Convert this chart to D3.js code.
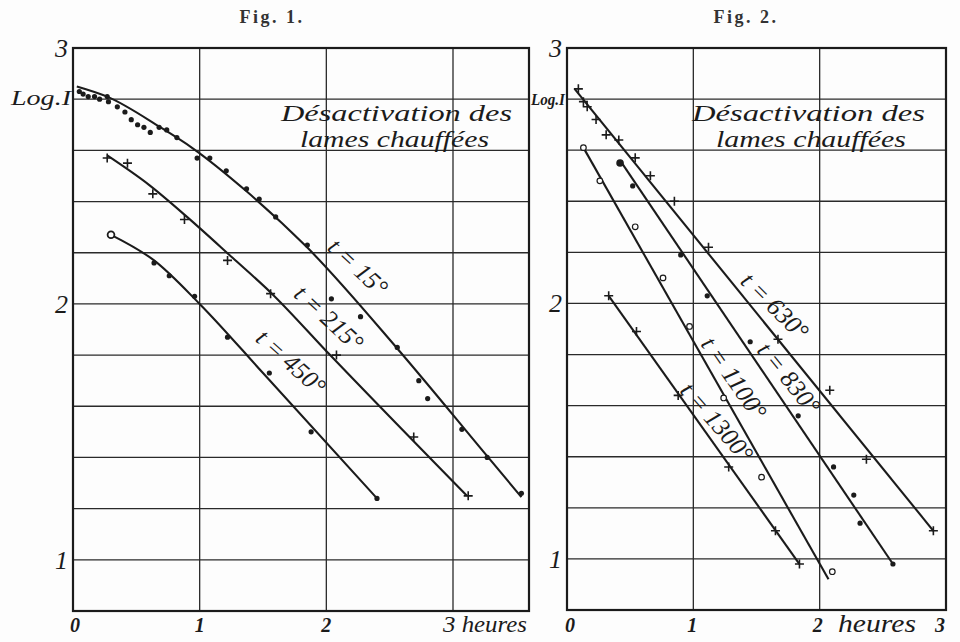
<!DOCTYPE html>
<html><head><meta charset="utf-8">
<script src="https://cdn.jsdelivr.net/npm/d3@7"></script>
<style>
html,body{margin:0;padding:0;background:#fdfdfd;}
svg{display:block;}
</style></head>
<body>
<svg id="chart" width="960" height="642"></svg>
<script>
// ---------------- DATA ----------------
const figTitles = ["Fig. 1.", "Fig. 2."];
const chartTitleLines = ["Désactivation des", "lames chauffées"];
const yLabelName = "Log.I";
const yTickValues = [1, 2, 3];
const yTickLabels = ["1", "2", "3"];
const fig1XTicks = [0, 1, 2, 3];
const fig1XTickLabels = ["0", "1", "2", "3"];
const fig2XTicks = [0, 1, 2, 3];
const fig2XTickLabels = ["0", "1", "2", "3"];
const xUnit = "heures";

// Fig. 1 — t = 15° (dots, curved fit)
const f1t15Hours = [0.05,0.08,0.12,0.17,0.21,0.27,0.28,0.35,0.41,0.46,0.51,0.56,0.61,0.68,0.74,0.82,0.98,1.08,1.21,1.37,1.47,1.60,1.85,2.04,2.27,2.56,2.73,2.80,3.07,3.27,3.54];
const f1t15Log   = [2.83,2.82,2.81,2.81,2.80,2.81,2.79,2.77,2.75,2.72,2.70,2.69,2.67,2.69,2.68,2.65,2.57,2.57,2.52,2.45,2.41,2.34,2.23,2.02,1.95,1.83,1.70,1.63,1.51,1.40,1.26];
const f1t15CurveHours = [0.03,0.27,0.69,0.94,1.37,1.85,2.57,3.27,3.54];
const f1t15CurveLog   = [2.85,2.81,2.69,2.61,2.44,2.22,1.82,1.405,1.245];

// Fig. 1 — t = 215° (crosses)
const f1t215Hours = [0.27,0.43,0.63,0.88,1.22,1.56,2.08,2.69,3.12];
const f1t215Log   = [2.57,2.55,2.43,2.33,2.17,2.04,1.80,1.48,1.25];
const f1t215CurveHours = [0.27,0.60,0.90,1.26,1.56,2.03,3.11];
const f1t215CurveLog   = [2.58,2.465,2.34,2.18,2.045,1.80,1.25];

// Fig. 1 — t = 450° (dots)
const f1t450Hours = [0.30,0.64,0.76,0.96,1.22,1.55,1.88,2.40];
const f1t450Log   = [2.27,2.16,2.11,2.03,1.87,1.73,1.50,1.24];
const f1t450CurveHours = [0.30,0.64,1.00,1.50,2.40];
const f1t450CurveLog   = [2.27,2.17,2.00,1.73,1.24];

// Fig. 2 — t = 630° (crosses)
const f2t630Hours = [0.09,0.13,0.16,0.23,0.31,0.41,0.54,0.66,0.85,1.12,1.67,2.08,2.37,2.90];
const f2t630Log   = [2.84,2.79,2.77,2.72,2.66,2.64,2.57,2.50,2.40,2.22,1.86,1.66,1.39,1.11];
const f2t630LineHours = [0.06,2.90];
const f2t630LineLog   = [2.84,1.11];

// Fig. 2 — t = 830° (dots)
const f2t830Hours = [0.42,0.52,0.90,1.11,1.45,1.83,2.11,2.27,2.32,2.58];
const f2t830Log   = [2.55,2.46,2.19,2.03,1.85,1.56,1.36,1.25,1.14,0.98];
const f2t830LineHours = [0.42,2.58];
const f2t830LineLog   = [2.56,0.98];

// Fig. 2 — t = 1100° (open circles)
const f2t1100Hours = [0.13,0.26,0.54,0.76,0.97,1.24,1.54,2.10];
const f2t1100Log   = [2.61,2.48,2.30,2.10,1.91,1.63,1.32,0.95];
const f2t1100LineHours = [0.13,2.07];
const f2t1100LineLog   = [2.61,0.92];

// Fig. 2 — t = 1300° (crosses)
const f2t1300Hours = [0.33,0.55,0.88,1.28,1.65,1.84];
const f2t1300Log   = [2.03,1.89,1.64,1.36,1.11,0.98];
const f2t1300LineHours = [0.33,1.84];
const f2t1300LineLog   = [2.03,0.98];

const fig1SeriesNames = ["t = 15°", "t = 215°", "t = 450°"];
const fig2SeriesNames = ["t = 630°", "t = 830°", "t = 1100°", "t = 1300°"];

// ---------------- DRAWING ----------------
const zip = (a, b) => a.map((v, i) => [v, b[i]]);
const svg = d3.select("#chart");
const INK = "#1b1b1b";
const SERIF = "'Liberation Serif', 'DejaVu Serif', serif";

function drawPanel(cfg) {
  const x = d3.scaleLinear().domain(cfg.xDomain).range(cfg.xRange);
  const y = d3.scaleLinear().domain([0.8, 3]).range(cfg.yRange);
  const g = svg.append("g");

  const yGrid = d3.range(1.0, 2.95, 0.2);
  g.selectAll(".hg").data(yGrid).join("line")
    .attr("x1", x(cfg.xDomain[0])).attr("x2", x(cfg.xDomain[1]))
    .attr("y1", d => y(d)).attr("y2", d => y(d))
    .attr("stroke", "#2a2a2a").attr("stroke-width", 1.3);
  g.selectAll(".vg").data(cfg.xGrid).join("line")
    .attr("x1", d => x(d)).attr("x2", d => x(d))
    .attr("y1", y(3)).attr("y2", y(0.8))
    .attr("stroke", "#2a2a2a").attr("stroke-width", 1.3);
  g.append("rect")
    .attr("x", x(cfg.xDomain[0])).attr("y", y(3))
    .attr("width", x(cfg.xDomain[1]) - x(cfg.xDomain[0]))
    .attr("height", y(0.8) - y(3))
    .attr("fill", "none").attr("stroke", INK).attr("stroke-width", 2.2);

  g.selectAll(".yl").data(yTickValues).join("text")
    .attr("x", x(0) - 5).attr("y", d => y(d) + 9)
    .attr("text-anchor", "end")
    .attr("font-family", SERIF).attr("font-style", "italic")
    .attr("font-size", 26).attr("fill", INK)
    .text((d, i) => yTickLabels[i]);
  g.append("text")
    .attr("x", x(0) - 2).attr("y", y(2.8) + 6)
    .attr("text-anchor", "end")
    .attr("font-family", SERIF).attr("font-style", "italic").attr("font-weight", cfg.logBold ? "bold" : "normal")
    .attr("font-size", cfg.logSize).attr("fill", INK)
    .attr("textLength", cfg.logWidth).attr("lengthAdjust", "spacingAndGlyphs")
    .text(yLabelName);

  const xl = g.selectAll(".xl").data(cfg.xTicks).join("text")
    .attr("x", (d, i) => x(d) + cfg.xLabelDx[i]).attr("y", 632)
    .attr("text-anchor", "middle")
    .attr("font-family", SERIF).attr("font-style", "italic").attr("font-weight", "bold")
    .attr("font-size", 20).attr("fill", INK)
    .text((d, i) => cfg.xTickLabels[i]);
  if (cfg.unitAfterLast) {
    xl.filter((d, i) => i === cfg.xTicks.length - 1)
      .attr("text-anchor", "start")
      .attr("font-weight", "normal").attr("font-size", 23)
      .attr("textLength", 84).attr("lengthAdjust", "spacingAndGlyphs")
      .append("tspan").text(" " + xUnit);
  }

  svg.append("text")
    .attr("x", cfg.titleX).attr("y", 23)
    .attr("text-anchor", "middle")
    .attr("font-family", SERIF).attr("font-weight", "bold")
    .attr("font-size", 18).attr("letter-spacing", 2.5).attr("fill", "#333")
    .text(cfg.title);

  chartTitleLines.forEach((t, i) => {
    g.append("text")
      .attr("x", cfg.capX[i]).attr("y", [121, 147][i])
      .attr("font-family", SERIF).attr("font-style", "italic")
      .attr("font-size", 24).attr("fill", INK)
      .attr("textLength", cfg.capW[i]).attr("lengthAdjust", "spacingAndGlyphs")
      .text(t);
  });

  const line = d3.line().x(d => x(d[0])).y(d => y(d[1]));
  cfg.series.forEach(s => {
    g.append("path").datum(s.curve)
      .attr("d", line.curve(s.smooth ? d3.curveMonotoneX : d3.curveLinear))
      .attr("fill", "none").attr("stroke", INK).attr("stroke-width", 2.1);
    const pts = g.append("g");
    s.points.forEach((p, i) => {
      const px = x(p[0]), py = y(p[1]);
      if (s.marker === "cross") {
        pts.append("path").attr("d", `M${px-4.5},${py}H${px+4.5}M${px},${py-4.5}V${py+4.5}`)
          .attr("stroke", INK).attr("stroke-width", 1.6);
      } else if (s.marker === "ring" || (s.firstRing && i === 0)) {
        pts.append("circle").attr("cx", px).attr("cy", py).attr("r", s.firstRing ? 3.4 : 2.8)
          .attr("fill", "#fff").attr("stroke", INK).attr("stroke-width", s.firstRing ? 1.8 : 1.2);
      } else {
        pts.append("circle").attr("cx", px).attr("cy", py)
          .attr("r", (s.bigFirst && i === 0) ? 3.8 : 2.6).attr("fill", INK);
      }
    });
    g.append("text")
      .attr("transform", `translate(${s.label[0]},${s.label[1]}) rotate(${s.label[2]})`)
      .attr("text-anchor", "middle").attr("dominant-baseline", "central")
      .attr("font-family", SERIF).attr("font-style", "italic")
      .attr("font-size", 25).attr("fill", INK)
      .text(s.name);
  });
}

drawPanel({
  title: figTitles[0], titleX: 272,
  xDomain: [0, 3.6], xRange: [73, 529], yRange: [611, 48],
  xGrid: [1, 2, 3],
  xTicks: fig1XTicks, xTickLabels: fig1XTickLabels,
  xLabelDx: [2, 0, 0, -10], unitAfterLast: true,
  logSize: 22, logWidth: 60, logBold: false,
  capX: [281, 300], capW: [231, 189],
  series: [
    {name: fig1SeriesNames[0], points: zip(f1t15Hours, f1t15Log), curve: zip(f1t15CurveHours, f1t15CurveLog), marker: "dot", smooth: true, label: [358, 267, 43]},
    {name: fig1SeriesNames[1], points: zip(f1t215Hours, f1t215Log), curve: zip(f1t215CurveHours, f1t215CurveLog), marker: "cross", smooth: true, label: [329, 318, 43]},
    {name: fig1SeriesNames[2], points: zip(f1t450Hours, f1t450Log), curve: zip(f1t450CurveHours, f1t450CurveLog), marker: "dot", smooth: true, firstRing: true, label: [291, 362, 42]}
  ]
});

drawPanel({
  title: figTitles[1], titleX: 746,
  xDomain: [0, 3], xRange: [567, 946], yRange: [610, 48],
  xGrid: [1, 2],
  xTicks: fig2XTicks, xTickLabels: fig2XTickLabels,
  xLabelDx: [3, -1, -2, -6], unitAfterLast: false,
  logSize: 16, logWidth: 34, logBold: true,
  capX: [692, 716], capW: [233, 190],
  series: [
    {name: fig2SeriesNames[0], points: zip(f2t630Hours, f2t630Log), curve: zip(f2t630LineHours, f2t630LineLog), marker: "cross", smooth: false, label: [775, 306, 45]},
    {name: fig2SeriesNames[1], points: zip(f2t830Hours, f2t830Log), curve: zip(f2t830LineHours, f2t830LineLog), marker: "dot", smooth: false, bigFirst: true, label: [789, 378, 51]},
    {name: fig2SeriesNames[2], points: zip(f2t1100Hours, f2t1100Log), curve: zip(f2t1100LineHours, f2t1100LineLog), marker: "ring", smooth: false, label: [734, 378, 55]},
    {name: fig2SeriesNames[3], points: zip(f2t1300Hours, f2t1300Log), curve: zip(f2t1300LineHours, f2t1300LineLog), marker: "cross", smooth: false, label: [717, 422, 49]}
  ]
});

svg.append("text")
  .attr("x", 877).attr("y", 632).attr("text-anchor", "middle")
  .attr("font-family", SERIF).attr("font-style", "italic")
  .attr("font-size", 26).attr("fill", INK)
  .attr("textLength", 78).attr("lengthAdjust", "spacingAndGlyphs")
  .text(xUnit);
</script>
</body></html>
